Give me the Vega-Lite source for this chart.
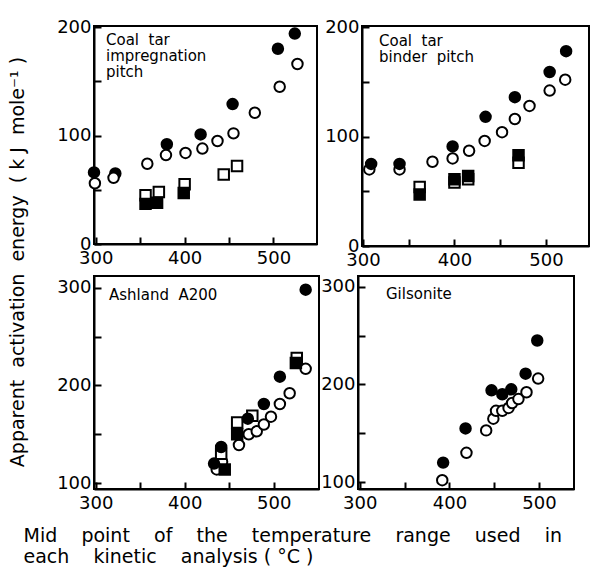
{
  "$schema": "https://vega.github.io/schema/vega-lite/v6.json",
  "padding": {"left": 8, "top": 17, "right": 2, "bottom": 1},
  "background": "white",
  "title": {"text": "Apparent\u00a0 activation\u00a0 energy\u00a0 ( k J\u00a0 mole⁻¹ )", "orient": "left", "anchor": "middle", "frame": "bounds", "offset": -25, "dx": 30, "fontSize": 19, "font": "DejaVu Sans", "fontWeight": "normal", "color": "black", "baseline": "bottom"},
  "config": {
    "view": {"stroke": "black", "strokeWidth": 2},
    "font": "DejaVu Sans",
    "axis": {
      "domainColor": "black", "domainWidth": 2, "tickColor": "black", "tickWidth": 2, "tickSize": -7,
      "labelFont": "DejaVu Sans", "labelFontSize": 18, "labelColor": "black", "grid": false,
      "labelOverlap": false, "labelFlush": false, "labelBound": false,
      "titleFont": "DejaVu Sans", "titleFontSize": 19, "titleFontWeight": "normal", "titleColor": "black"
    },
    "axisX": {"labelPadding": 12},
    "axisY": {"labelPadding": 10},
    "title": {"font": "DejaVu Sans", "fontSize": 15, "fontWeight": "normal", "color": "black", "anchor": "start", "frame": "group", "baseline": "top", "lineHeight": 16}
  },
  "datasets": {
    "impregnation": [
      {"temp": 298, "energy": 66, "symbol": "filled circle"},
      {"temp": 322, "energy": 65, "symbol": "filled circle"},
      {"temp": 380, "energy": 92, "symbol": "filled circle"},
      {"temp": 418, "energy": 101, "symbol": "filled circle"},
      {"temp": 454, "energy": 129, "symbol": "filled circle"},
      {"temp": 505, "energy": 180, "symbol": "filled circle"},
      {"temp": 524, "energy": 194, "symbol": "filled circle"},
      {"temp": 299, "energy": 56, "symbol": "open circle"},
      {"temp": 320, "energy": 61, "symbol": "open circle"},
      {"temp": 358, "energy": 74, "symbol": "open circle"},
      {"temp": 379, "energy": 82, "symbol": "open circle"},
      {"temp": 401, "energy": 84, "symbol": "open circle"},
      {"temp": 420, "energy": 88, "symbol": "open circle"},
      {"temp": 437, "energy": 95, "symbol": "open circle"},
      {"temp": 455, "energy": 102, "symbol": "open circle"},
      {"temp": 479, "energy": 121, "symbol": "open circle"},
      {"temp": 507, "energy": 145, "symbol": "open circle"},
      {"temp": 527, "energy": 166, "symbol": "open circle"},
      {"temp": 356, "energy": 45, "symbol": "open square"},
      {"temp": 371, "energy": 48, "symbol": "open square"},
      {"temp": 400, "energy": 55, "symbol": "open square"},
      {"temp": 444, "energy": 64, "symbol": "open square"},
      {"temp": 459, "energy": 72, "symbol": "open square"},
      {"temp": 356, "energy": 37, "symbol": "filled square"},
      {"temp": 369, "energy": 38, "symbol": "filled square"},
      {"temp": 399, "energy": 47, "symbol": "filled square"}
    ],
    "binder": [
      {"temp": 307, "energy": 70, "symbol": "open circle"},
      {"temp": 340, "energy": 70, "symbol": "open circle"},
      {"temp": 376, "energy": 77, "symbol": "open circle"},
      {"temp": 398, "energy": 80, "symbol": "open circle"},
      {"temp": 416, "energy": 87, "symbol": "open circle"},
      {"temp": 433, "energy": 96, "symbol": "open circle"},
      {"temp": 452, "energy": 104, "symbol": "open circle"},
      {"temp": 466, "energy": 116, "symbol": "open circle"},
      {"temp": 482, "energy": 128, "symbol": "open circle"},
      {"temp": 504, "energy": 142, "symbol": "open circle"},
      {"temp": 521, "energy": 152, "symbol": "open circle"},
      {"temp": 309, "energy": 75, "symbol": "filled circle"},
      {"temp": 340, "energy": 75, "symbol": "filled circle"},
      {"temp": 398, "energy": 91, "symbol": "filled circle"},
      {"temp": 434, "energy": 118, "symbol": "filled circle"},
      {"temp": 466, "energy": 136, "symbol": "filled circle"},
      {"temp": 504, "energy": 159, "symbol": "filled circle"},
      {"temp": 522, "energy": 178, "symbol": "filled circle"},
      {"temp": 362, "energy": 54, "symbol": "open square"},
      {"temp": 400, "energy": 58, "symbol": "open square"},
      {"temp": 415, "energy": 61, "symbol": "open square"},
      {"temp": 470, "energy": 76, "symbol": "open square"},
      {"temp": 362, "energy": 47, "symbol": "filled square"},
      {"temp": 400, "energy": 61, "symbol": "filled square"},
      {"temp": 415, "energy": 64, "symbol": "filled square"},
      {"temp": 470, "energy": 83, "symbol": "filled square"}
    ],
    "ashland": [
      {"temp": 436, "energy": 114, "symbol": "open circle"},
      {"temp": 442, "energy": 122, "symbol": "open circle"},
      {"temp": 461, "energy": 139, "symbol": "open circle"},
      {"temp": 472, "energy": 150, "symbol": "open circle"},
      {"temp": 481, "energy": 153, "symbol": "open circle"},
      {"temp": 489, "energy": 160, "symbol": "open circle"},
      {"temp": 497, "energy": 168, "symbol": "open circle"},
      {"temp": 507, "energy": 181, "symbol": "open circle"},
      {"temp": 518, "energy": 192, "symbol": "open circle"},
      {"temp": 536, "energy": 217, "symbol": "open circle"},
      {"temp": 441, "energy": 130, "symbol": "open square"},
      {"temp": 459, "energy": 162, "symbol": "open square"},
      {"temp": 476, "energy": 169, "symbol": "open square"},
      {"temp": 526, "energy": 228, "symbol": "open square"},
      {"temp": 445, "energy": 114, "symbol": "filled square"},
      {"temp": 459, "energy": 150, "symbol": "filled square"},
      {"temp": 525, "energy": 223, "symbol": "filled square"},
      {"temp": 433, "energy": 120, "symbol": "filled circle"},
      {"temp": 441, "energy": 137, "symbol": "filled circle"},
      {"temp": 471, "energy": 166, "symbol": "filled circle"},
      {"temp": 489, "energy": 181, "symbol": "filled circle"},
      {"temp": 507, "energy": 209, "symbol": "filled circle"},
      {"temp": 536, "energy": 298, "symbol": "filled circle"}
    ],
    "gilsonite": [
      {"temp": 392, "energy": 102, "symbol": "open circle"},
      {"temp": 419, "energy": 130, "symbol": "open circle"},
      {"temp": 441, "energy": 153, "symbol": "open circle"},
      {"temp": 449, "energy": 165, "symbol": "open circle"},
      {"temp": 452, "energy": 173, "symbol": "open circle"},
      {"temp": 459, "energy": 173, "symbol": "open circle"},
      {"temp": 466, "energy": 176, "symbol": "open circle"},
      {"temp": 470, "energy": 181, "symbol": "open circle"},
      {"temp": 477, "energy": 185, "symbol": "open circle"},
      {"temp": 486, "energy": 192, "symbol": "open circle"},
      {"temp": 499, "energy": 206, "symbol": "open circle"},
      {"temp": 393, "energy": 120, "symbol": "filled circle"},
      {"temp": 418, "energy": 155, "symbol": "filled circle"},
      {"temp": 447, "energy": 194, "symbol": "filled circle"},
      {"temp": 459, "energy": 190, "symbol": "filled circle"},
      {"temp": 469, "energy": 195, "symbol": "filled circle"},
      {"temp": 485, "energy": 211, "symbol": "filled circle"},
      {"temp": 498, "energy": 245, "symbol": "filled circle"}
    ]
  },
  "vconcat": [
    {
      "bounds": "flush",
      "spacing": 45,
      "hconcat": [
        {
          "width": 223, "height": 218,
          "title": {"text": ["Coal\u00a0 tar", "impregnation", "pitch"], "offset": -62, "dx": 12},
          "data": {"name": "impregnation"},
          "mark": {"type": "point", "filled": true, "stroke": "black", "strokeWidth": 2, "size": 110, "opacity": 1},
          "encoding": {
            "x": {"field": "temp", "type": "quantitative", "scale": {"domain": [298, 549], "nice": false, "zero": false},
                  "axis": {"values": [300, 350, 400, 450, 500], "labelExpr": "datum.value % 100 == 0 ? datum.label : ''", "title": null}},
            "y": {"field": "energy", "type": "quantitative", "scale": {"domain": [0, 201], "nice": false, "zero": false},
                  "axis": {"values": [0, 50, 100, 150, 200], "labelExpr": "datum.value % 100 == 0 ? datum.label : ''", "title": null}},
            "shape": {"field": "symbol", "type": "nominal", "scale": {"domain": ["filled circle", "open circle", "open square", "filled square"], "range": ["circle", "circle", "square", "square"]}, "legend": null},
            "fill": {"field": "symbol", "type": "nominal", "scale": {"domain": ["filled circle", "open circle", "open square", "filled square"], "range": ["black", "white", "white", "black"]}, "legend": null}
          }
        },
        {
          "width": 227, "height": 220,
          "title": {"text": ["Coal\u00a0 tar", "binder\u00a0 pitch"], "offset": -47, "dx": 17},
          "data": {"name": "binder"},
          "mark": {"type": "point", "filled": true, "stroke": "black", "strokeWidth": 2, "size": 110, "opacity": 1},
          "encoding": {
            "x": {"field": "temp", "type": "quantitative", "scale": {"domain": [299, 547], "nice": false, "zero": false},
                  "axis": {"values": [300, 350, 400, 450, 500], "labelExpr": "datum.value % 100 == 0 ? datum.label : ''", "title": null}},
            "y": {"field": "energy", "type": "quantitative", "scale": {"domain": [0, 201], "nice": false, "zero": false},
                  "axis": {"values": [0, 50, 100, 150, 200], "labelExpr": "datum.value % 100 == 0 ? datum.label : ''", "title": null}},
            "shape": {"field": "symbol", "type": "nominal", "scale": {"domain": ["filled circle", "open circle", "open square", "filled square"], "range": ["circle", "circle", "square", "square"]}, "legend": null},
            "fill": {"field": "symbol", "type": "nominal", "scale": {"domain": ["filled circle", "open circle", "open square", "filled square"], "range": ["black", "white", "white", "black"]}, "legend": null}
          }
        }
      ]
    },
    {
      "bounds": "flush",
      "spacing": 39,
      "hconcat": [
        {
          "width": 225, "height": 213,
          "title": {"text": "Ashland\u00a0 A200", "offset": -27, "dx": 15},
          "data": {"name": "ashland"},
          "mark": {"type": "point", "filled": true, "stroke": "black", "strokeWidth": 2, "size": 110, "opacity": 1},
          "encoding": {
            "x": {"field": "temp", "type": "quantitative", "scale": {"domain": [298, 551], "nice": false, "zero": false},
                  "axis": {"values": [300, 350, 400, 450, 500], "labelExpr": "datum.value % 100 == 0 ? datum.label : ''",
                           "title": ["Mid\u00a0\u00a0\u00a0 point\u00a0\u00a0\u00a0 of\u00a0\u00a0\u00a0 the\u00a0\u00a0\u00a0 temperature\u00a0\u00a0\u00a0 range\u00a0\u00a0\u00a0 used\u00a0\u00a0\u00a0 in", "each\u00a0\u00a0\u00a0 kinetic\u00a0\u00a0\u00a0 analysis ( °C )"], "titleX": -71, "titleY": 37, "titleAlign": "left", "titleBaseline": "top", "titleLineHeight": 21}},
            "y": {"field": "energy", "type": "quantitative", "scale": {"domain": [94, 312], "nice": false, "zero": false},
                  "axis": {"values": [100, 150, 200, 250, 300], "labelExpr": "datum.value % 100 == 0 ? datum.label : ''", "title": null}},
            "shape": {"field": "symbol", "type": "nominal", "scale": {"domain": ["filled circle", "open circle", "open square", "filled square"], "range": ["circle", "circle", "square", "square"]}, "legend": null},
            "fill": {"field": "symbol", "type": "nominal", "scale": {"domain": ["filled circle", "open circle", "open square", "filled square"], "range": ["black", "white", "white", "black"]}, "legend": null}
          }
        },
        {
          "width": 216, "height": 213,
          "title": {"text": "Gilsonite", "offset": -26, "dx": 28},
          "data": {"name": "gilsonite"},
          "mark": {"type": "point", "filled": true, "stroke": "black", "strokeWidth": 2, "size": 110, "opacity": 1},
          "encoding": {
            "x": {"field": "temp", "type": "quantitative", "scale": {"domain": [298, 539], "nice": false, "zero": false},
                  "axis": {"values": [300, 350, 400, 450, 500], "labelExpr": "datum.value % 100 == 0 ? datum.label : ''", "title": null}},
            "y": {"field": "energy", "type": "quantitative", "scale": {"domain": [93, 311], "nice": false, "zero": false},
                  "axis": {"values": [100, 150, 200, 250, 300], "labelExpr": "datum.value % 100 == 0 ? datum.label : ''", "title": null}},
            "shape": {"field": "symbol", "type": "nominal", "scale": {"domain": ["filled circle", "open circle", "open square", "filled square"], "range": ["circle", "circle", "square", "square"]}, "legend": null},
            "fill": {"field": "symbol", "type": "nominal", "scale": {"domain": ["filled circle", "open circle", "open square", "filled square"], "range": ["black", "white", "white", "black"]}, "legend": null}
          }
        }
      ]
    }
  ],
  "spacing": 5
}
